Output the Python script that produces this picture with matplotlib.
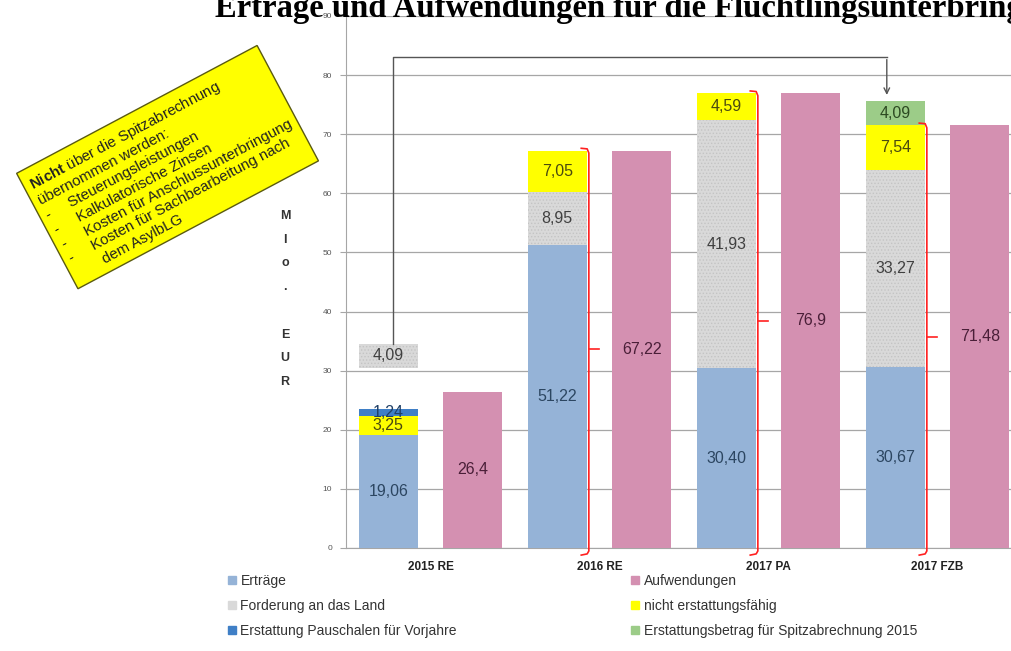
import matplotlib
matplotlib.use("Agg")
import matplotlib.pyplot as plt
from matplotlib.patches import Patch

plt.rcParams['font.family'] = ['Liberation Sans', 'DejaVu Sans']
plt.rcParams['mathtext.fontset'] = 'custom'
plt.rcParams['mathtext.rm'] = 'Liberation Sans'
plt.rcParams['mathtext.bf'] = 'Liberation Sans:bold'
plt.rcParams['hatch.linewidth'] = 0.6

categories = ['2015 RE', '2016 RE', '2017 PA', '2017 FZB']
ertraege = [19.06, 51.22, 30.40, 30.67]
forderung = [4.09, 8.95, 41.93, 33.27]
nicht_erstattungsfaehig = [3.25, 7.05, 4.59, 7.54]
erstattung_pauschalen = [1.24, 0, 0, 0]
spitzabrechnung = [0, 0, 0, 4.09]
aufwendungen = [26.4, 67.22, 76.9, 71.48]
# 2015: Forderung floats above the stack instead of sitting on it
forderung_stacked = [False, True, True, True]
forderung_float_bottom = 30.5

c_blue = '#95b3d7'
c_pink = '#d490b1'
c_gray = '#d9d9d9'
c_yellow = '#ffff00'
c_dblue = '#3f7fc6'
c_green = '#9ccc88'

fig = plt.figure(figsize=(10.12, 6.51), dpi=100)
ax = fig.add_axes([346/1012, 1-548/651, 676/1012, (548-16)/651])

x = list(range(len(categories)))
xs = [i - 0.25 for i in x]
xp = [i + 0.25 for i in x]
w = 0.35

def lab(v, two=True):
    s = f"{v:.2f}" if two else f"{v:g}"
    return s.replace('.', ',')

# stacked bars
ax.bar(xs, ertraege, w, color=c_blue, zorder=3)
fb = [e if st else forderung_float_bottom for e, st in zip(ertraege, forderung_stacked)]
ax.bar(xs, forderung, w, bottom=fb, color=c_gray, edgecolor='#c4c4c4', linewidth=0,
       hatch='.....', zorder=3)
yb = [e + (f if st else 0) for e, f, st in zip(ertraege, forderung, forderung_stacked)]
ax.bar(xs, nicht_erstattungsfaehig, w, bottom=yb, color=c_yellow, zorder=3)
pb = [b + n for b, n in zip(yb, nicht_erstattungsfaehig)]
ax.bar(xs, erstattung_pauschalen, w, bottom=pb, color=c_dblue, zorder=3)
ax.bar(xs, spitzabrechnung, w, bottom=pb, color=c_green, zorder=3)
ax.bar(xp, aufwendungen, w, color=c_pink, zorder=3)

fs = 11.5
for i in x:
    ax.text(xs[i], ertraege[i]/2, lab(ertraege[i]), ha='center', va='center', fontsize=fs, color='#2c4661', zorder=5)
    ax.text(xs[i], fb[i] + forderung[i]/2, lab(forderung[i]), ha='center', va='center', fontsize=fs, color='#404040', zorder=5)
    ax.text(xs[i], yb[i] + nicht_erstattungsfaehig[i]/2, lab(nicht_erstattungsfaehig[i]), ha='center', va='center',
            fontsize=fs, color='#4a4a10', zorder=5)
    if erstattung_pauschalen[i]:
        ax.text(xs[i], pb[i] + erstattung_pauschalen[i]/2, lab(erstattung_pauschalen[i]), ha='center', va='center',
                fontsize=fs, color='#1f3f66', zorder=5)
    if spitzabrechnung[i]:
        ax.text(xs[i], pb[i] + spitzabrechnung[i]/2, lab(spitzabrechnung[i]), ha='center', va='center',
                fontsize=fs, color='#2d4a22', zorder=5)
    ax.text(xp[i], aufwendungen[i]/2, lab(aufwendungen[i], False), ha='center', va='center', fontsize=fs,
            color='#4a1f38', zorder=5)

# red braces next to the stacks
for i in x[1:]:
    top = pb[i]
    bx = xs[i] + w/2 + 0.012
    ax.plot([bx - 0.045, bx - 0.01, bx, bx, bx - 0.01, bx - 0.045],
            [top + 0.4, top + 0.3, top - 0.4, -0.5, -1.0, -1.2],
            color='#ff2020', lw=1.2, clip_on=False, zorder=6)
    ax.plot([bx, bx + 0.06], [top/2, top/2], color='#ff2020', lw=1.2, zorder=6)

# connector from 2015 Forderung to Spitzabrechnung 2017
ax.plot([xs[0] + 0.028, xs[0] + 0.028, xs[3] - 0.05], [fb[0] + forderung[0], 83.1, 83.1],
        color='#555555', lw=1, zorder=4)
ax.annotate('', xy=(xs[3] - 0.05, pb[3] + spitzabrechnung[3] + 0.6), xytext=(xs[3] - 0.05, 83.1),
            arrowprops=dict(arrowstyle='->', color='#555555', lw=1), zorder=4)

ax.set_xlim(-0.5, 3.5)
ax.set_ylim(0, 90)
ax.set_yticks(range(0, 91, 10))
ax.yaxis.grid(True, color='#a6a6a6', lw=0.9, zorder=0)
ax.set_axisbelow(True)
for s in ['top', 'right']:
    ax.spines[s].set_visible(False)
ax.spines['left'].set_color('#a6a6a6')
ax.spines['bottom'].set_color('#a6a6a6')
ax.tick_params(axis='y', labelsize=6, colors='#a6a6a6', labelcolor='#555555', length=4, pad=6)
ax.tick_params(axis='x', length=0, pad=9)
ax.set_xticks(x)
ax.set_xticklabels(categories, fontsize=8.5, fontweight='bold', color='#222222')

fig.text(285/1012, 1-299/651, "M\nI\no\n.\n\nE\nU\nR", ha='center', va='center', fontsize=9,
         fontweight='bold', color='#333333', linespacing=2.3)

fig.text(215/1012, 1-17/651, "Erträge und Aufwendungen für die Flüchtlingsunterbringung",
         family=['Liberation Serif'], fontweight='bold', fontsize=23.5, va='baseline', ha='left')

note = ("$\\mathbf{Nicht}$ über die Spitzabrechnung\n"
        "übernommen werden:\n"
        "-     Steuerungsleistungen\n"
        "-     Kalkulatorische Zinsen\n"
        "-     Kosten für Anschlussunterbringung\n"
        "-     Kosten für Sachbearbeitung nach\n"
        "       dem AsylbLG")
fig.text(168/1012, 1-168/651, note, rotation=28, rotation_mode='anchor', ha='center', va='center',
         multialignment='left', fontsize=10.8, color='#222222', linespacing=1.2,
         bbox=dict(boxstyle='square,pad=0.45', fc='#ffff00', ec='#5a5a10', lw=1))

handles = [Patch(color=c_blue), Patch(color=c_gray), Patch(color=c_dblue),
           Patch(color=c_pink), Patch(color=c_yellow), Patch(color=c_green)]
labels = ['Erträge', 'Forderung an das Land', 'Erstattung Pauschalen für Vorjahre',
          'Aufwendungen', 'nicht erstattungsfähig', 'Erstattungsbetrag für Spitzabrechnung 2015']
fig.legend(handles, labels, ncol=2, loc='upper left', bbox_to_anchor=(228/1012, 1-574/651),
           frameon=False, fontsize=10, handlelength=0.55, handleheight=0.55, handletextpad=0.35,
           columnspacing=12.55, labelspacing=0.8, borderaxespad=0, borderpad=0,
           labelcolor='#333333')

fig.savefig('out.png', dpi=100)
